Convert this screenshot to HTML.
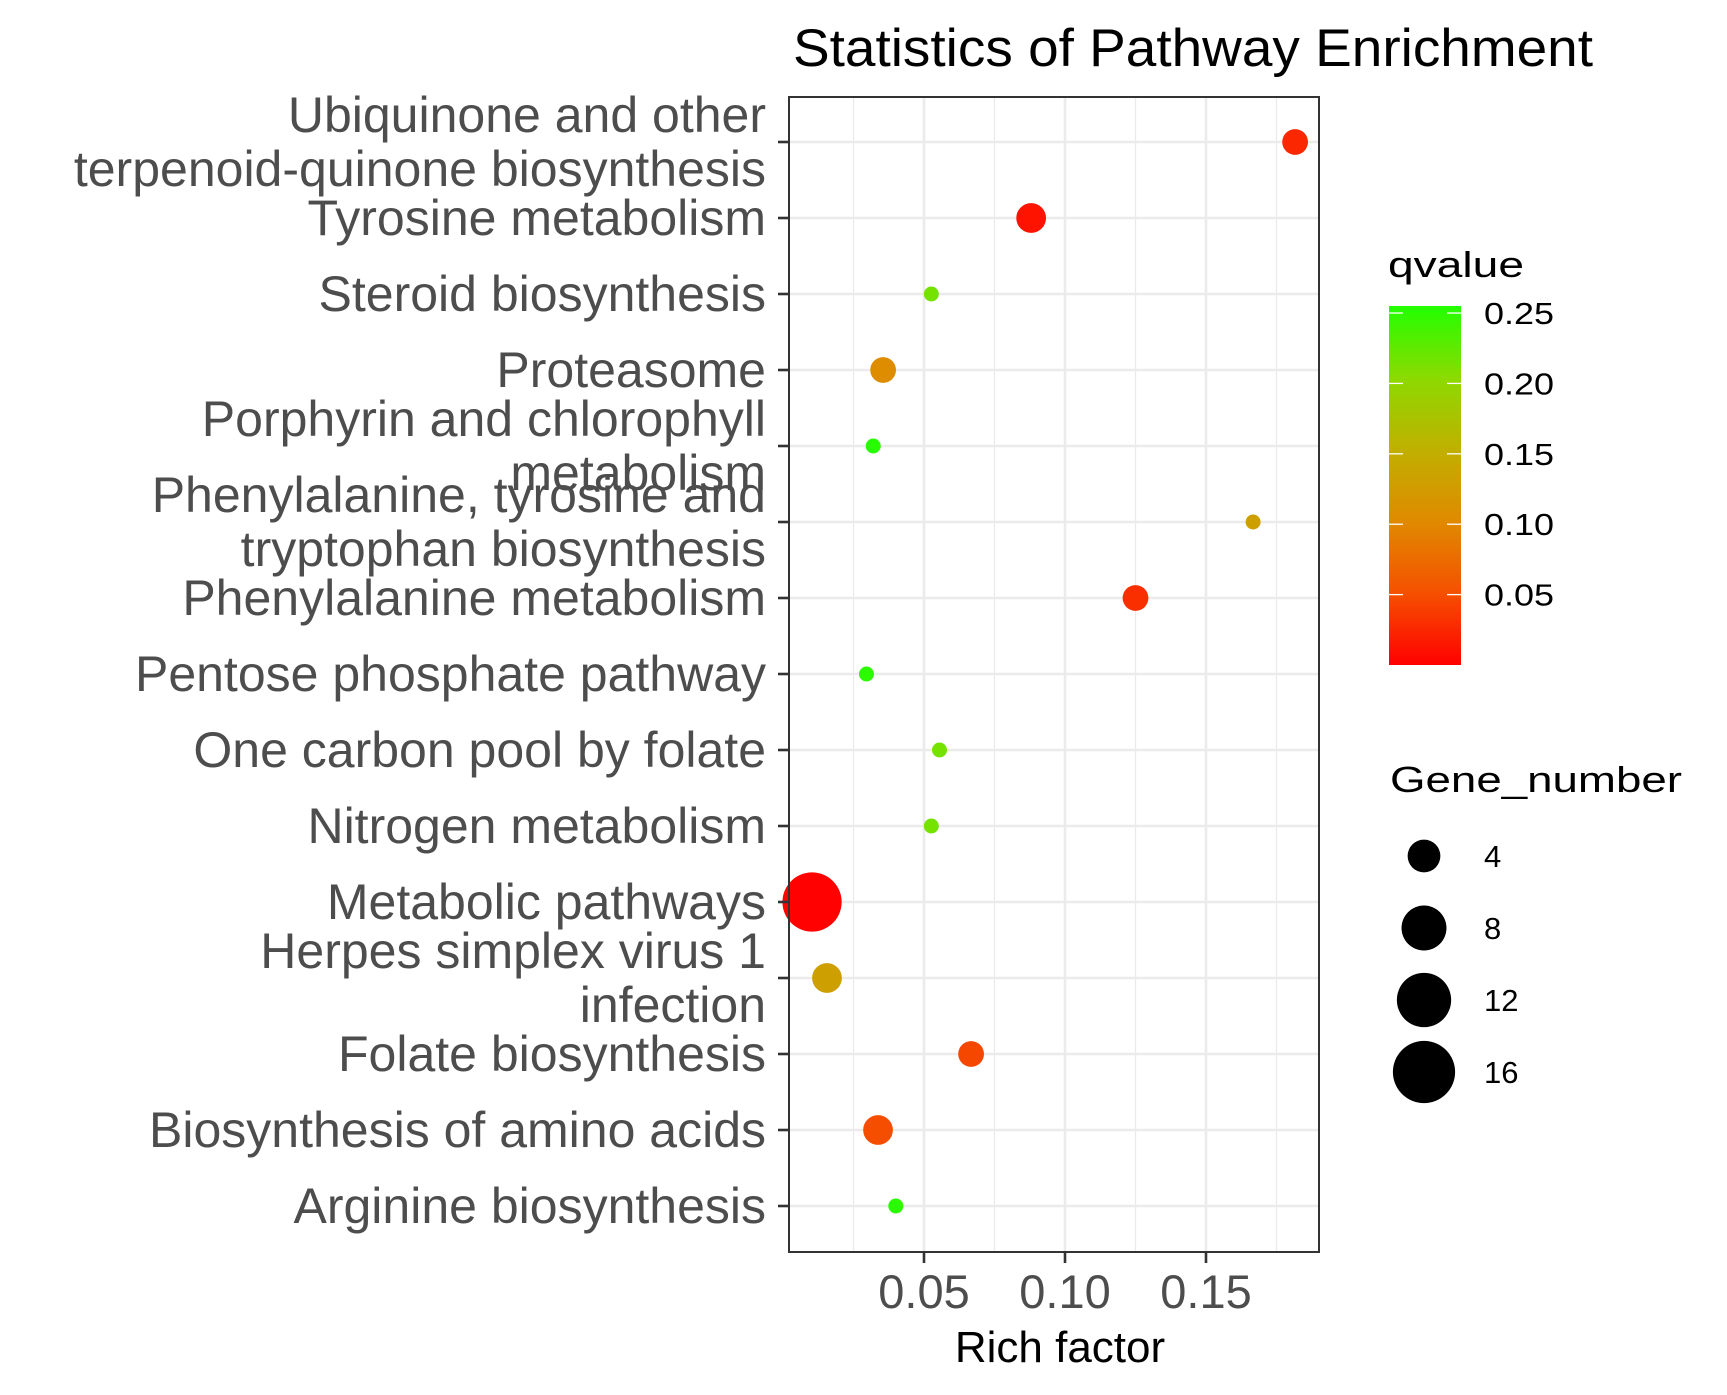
<!DOCTYPE html>
<html><head><meta charset="utf-8"><style>
html,body{margin:0;padding:0;background:#fff;}
svg{display:block;font-family:"Liberation Sans",Arial,sans-serif;}
</style></head><body>
<svg id="chart" width="1727" height="1395" viewBox="0 0 1727 1395" xmlns="http://www.w3.org/2000/svg">
<defs>
<linearGradient id="qgrad" x1="0" y1="1" x2="0" y2="0">
<stop offset="0" stop-color="#FF0000"/>
<stop offset="0.2" stop-color="#F55000"/>
<stop offset="0.4" stop-color="#E08A00"/>
<stop offset="0.6" stop-color="#C0B000"/>
<stop offset="0.8" stop-color="#8CDA00"/>
<stop offset="1" stop-color="#22FF00"/>
</linearGradient>
</defs>
<text x="793" y="66" font-size="53" fill="#000" textLength="800" lengthAdjust="spacingAndGlyphs">Statistics of Pathway Enrichment</text>
<g id="grid"></g>
<g id="points"></g>
<rect x="789" y="97" width="530" height="1155" fill="none" stroke="#333" stroke-width="2"/>
<g id="axes"></g>
<text x="1060" y="1362" font-size="44" text-anchor="middle" fill="#000">Rich factor</text>
<g>
<text x="1388" y="277" font-size="36" fill="#000" textLength="136" lengthAdjust="spacingAndGlyphs">qvalue</text>
<rect x="1389" y="306" width="72" height="359" fill="url(#qgrad)"/>
<g id="cbticks"></g>
</g>
<g>
<text x="1390" y="792" font-size="36" fill="#000" textLength="292" lengthAdjust="spacingAndGlyphs">Gene_number</text>
<g id="sizeleg"></g>
</g>
</svg>
<script>
const pathways = ["Ubiquinone and other|terpenoid-quinone biosynthesis","Tyrosine metabolism","Steroid biosynthesis","Proteasome","Porphyrin and chlorophyll|metabolism","Phenylalanine, tyrosine and|tryptophan biosynthesis","Phenylalanine metabolism","Pentose phosphate pathway","One carbon pool by folate","Nitrogen metabolism","Metabolic pathways","Herpes simplex virus 1|infection","Folate biosynthesis","Biosynthesis of amino acids","Arginine biosynthesis"];
const richFactor = [0.1816,0.088,0.0526,0.0355,0.032,0.1667,0.125,0.0296,0.0555,0.0526,0.0103,0.0156,0.0667,0.0337,0.040];
const qvalue = [0.025,0.012,0.215,0.105,0.252,0.13,0.03,0.25,0.215,0.215,0.001,0.13,0.045,0.05,0.25];
const geneNumber = [3,4,1,3,1,1,3,1,1,1,16,4,3,4,1];
const xTicks = [0.05,0.10,0.15];
const xTickLabels = ["0.05","0.10","0.15"];
const xMinor = [0.025,0.075,0.125,0.175];
const qTicks = [0.05,0.10,0.15,0.20,0.25];
const qTickLabels = ["0.05","0.10","0.15","0.20","0.25"];
const sizeBreaks = [4,8,12,16];

const NS="http://www.w3.org/2000/svg";
const X0=789,X1=1319,Y0=97,Y1=1252;
function xs(v){return 924+(v-0.05)*2820;}
function ys(i){return 142+i*76;}
function rs(n){return 7.5+7.37*(Math.sqrt(n)-1);}
function qy(q){return 665-(q-0.0)/0.255*359;}
const stops=[[0,[255,0,0]],[0.051,[245,80,0]],[0.102,[224,138,0]],[0.153,[192,176,0]],[0.204,[140,218,0]],[0.255,[34,255,0]]];
function qcol(q){
  if(q<=0)return"rgb(255,0,0)";
  for(let i=1;i<stops.length;i++){
    if(q<=stops[i][0]||i==stops.length-1){
      const a=stops[i-1],b=stops[i];let t=(q-a[0])/(b[0]-a[0]);t=Math.max(0,Math.min(1,t));
      const c=a[1].map((v,k)=>Math.round(v+(b[1][k]-v)*t));return`rgb(${c[0]},${c[1]},${c[2]})`;
    }
  }
}
function mk(tag,attrs,parent){const e=document.createElementNS(NS,tag);for(const k in attrs)e.setAttribute(k,attrs[k]);parent.appendChild(e);return e;}
const grid=document.getElementById('grid'),pts=document.getElementById('points'),axes=document.getElementById('axes');
xMinor.forEach(v=>{const x=xs(v);if(x>X0&&x<X1){const l=mk('line',{x1:x,x2:x,y1:Y0,y2:Y1,stroke:'#EBEBEB','stroke-width':1.3},grid);

}});
xTicks.forEach((v,i)=>{const x=xs(v);
const l=mk('line',{x1:x,x2:x,y1:Y0,y2:Y1,stroke:'#EBEBEB','stroke-width':2.6},grid);


const t=mk('line',{x1:x,x2:x,y1:Y1,y2:Y1+11,stroke:'#333','stroke-width':2.6},axes);


const tx=mk('text',{x:x,y:1308,'font-size':47,'text-anchor':'middle',fill:'#4D4D4D'},axes);tx.textContent=xTickLabels[i];

});
pathways.forEach((p,i)=>{const y=ys(i);
const l=mk('line',{x1:X0,x2:X1,y1:y,y2:y,stroke:'#EBEBEB','stroke-width':2.6},grid);


const t=mk('line',{x1:X0-11,x2:X0,y1:y,y2:y,stroke:'#333','stroke-width':2.6},axes);


const lines=p.split('|');
const tx=mk('text',{x:766,'font-size':50,'text-anchor':'end',fill:'#4D4D4D'},axes);


if(lines.length==1){tx.setAttribute('y',y+17);tx.textContent=lines[0];}
else{lines.forEach((s,k)=>{const ts=mk('tspan',{x:766,y:y-10+k*54},tx);ts.textContent=s;});}
const c=mk('circle',{cx:xs(richFactor[i]),cy:y,r:rs(geneNumber[i]),fill:qcol(qvalue[i])},pts);

});
const cb=document.getElementById('cbticks');
qTicks.forEach((q,i)=>{const y=qy(q);
const a=mk('line',{x1:1389,x2:1403,y1:y,y2:y,stroke:'#fff','stroke-width':1.3},cb);


const b=mk('line',{x1:1447,x2:1461,y1:y,y2:y,stroke:'#fff','stroke-width':1.3},cb);


const t=mk('text',{x:1484,y:y+11,'font-size':31,fill:'#000',textLength:70,lengthAdjust:'spacingAndGlyphs'},cb);t.textContent=qTickLabels[i];

});
const sl=document.getElementById('sizeleg');
sizeBreaks.forEach((n,i)=>{const y=856+i*72;
const c=mk('circle',{cx:1424,cy:y,r:rs(n)+1.5,fill:'#000'},sl);


const t=mk('text',{x:1484,y:y+11,'font-size':31,fill:'#000'},sl);t.textContent=String(n);

});
</script>
</body></html>
